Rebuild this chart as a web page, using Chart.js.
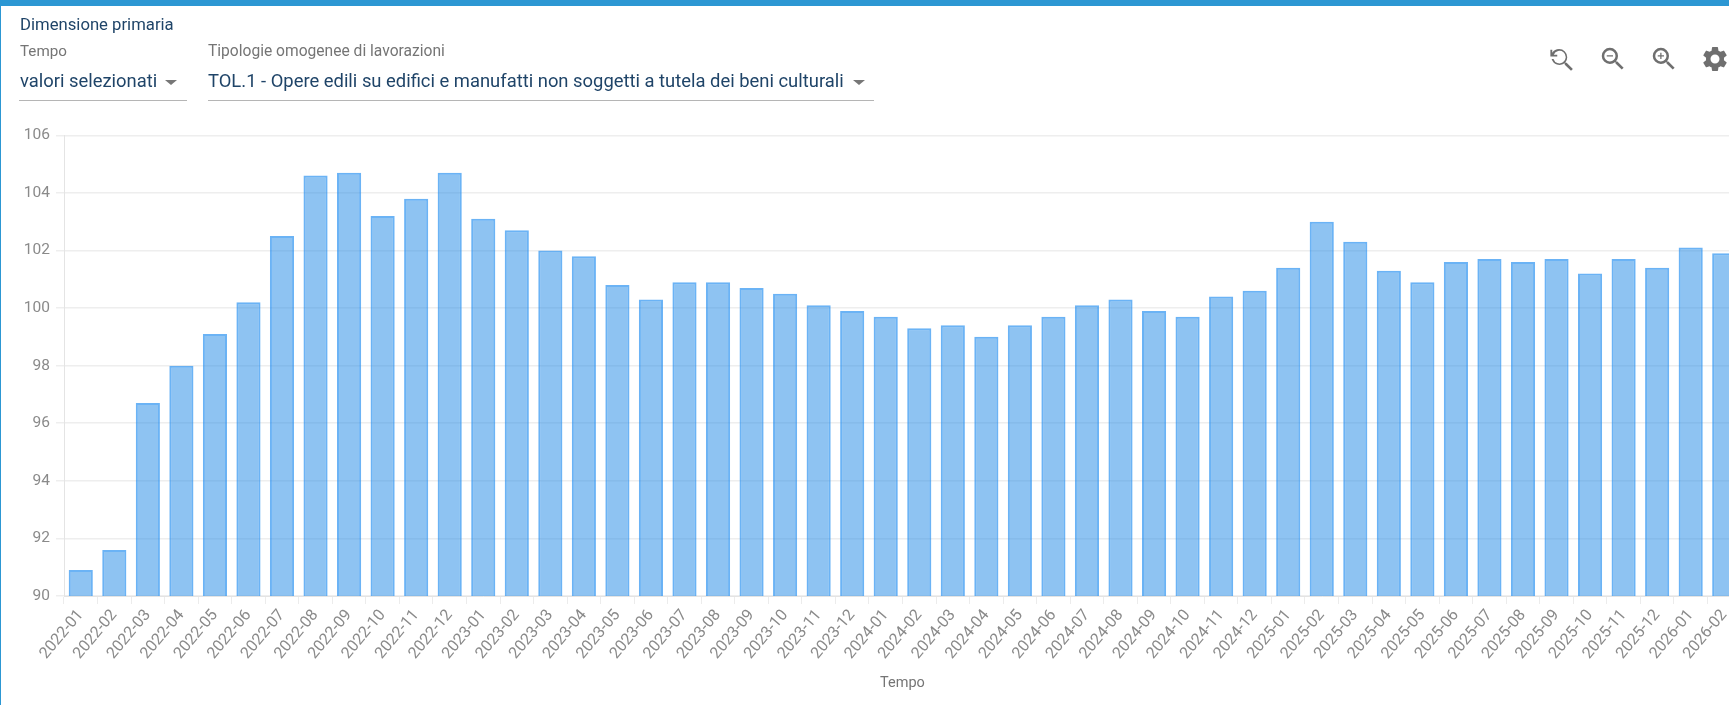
<!DOCTYPE html>
<html><head><meta charset="utf-8">
<script src="https://cdn.jsdelivr.net/npm/chart.js@4"></script>
<style>
html,body{margin:0;padding:0;width:1729px;height:705px;overflow:hidden;background:#fff;font-family:Roboto,sans-serif}
#top{position:absolute;left:0;top:0;width:1729px;height:6px;background:#2c97d3}
#leftb{position:absolute;left:0;top:0;width:1px;height:705px;background:#2c97d3}
.t{position:absolute;white-space:nowrap;filter:blur(.3px)}
.line{position:absolute;height:1px;background:#b5b5b5;top:100px}
.arrow{position:absolute;top:80px;width:0;height:0;border-left:6px solid transparent;border-right:6px solid transparent;border-top:5px solid #777}
#wrap{position:absolute;left:0;top:120px;width:1760px;height:585px;filter:blur(.5px)}
svg.i{position:absolute;top:44px;width:30px;height:30px;fill:#6f6f6f;filter:blur(.25px)}
</style></head><body>
<div id="top"></div><div id="leftb"></div>
<div class="t" style="left:20px;top:15px;font-size:16.7px;color:#1f4468">Dimensione primaria</div>
<div class="t" style="left:20px;top:42px;font-size:15.2px;color:#757575">Tempo</div>
<div class="t" style="left:208px;top:42px;font-size:15.6px;color:#757575">Tipologie omogenee di lavorazioni</div>
<div class="t" style="left:20px;top:70px;font-size:18.4px;color:#1f4468">valori selezionati</div>
<div class="arrow" style="left:165px"></div><div class="line" style="left:19px;width:168px"></div>
<div class="t" style="left:208px;top:70px;font-size:18.4px;color:#1f4468">TOL.1 - Opere edili su edifici e manufatti non soggetti a tutela dei beni culturali</div>
<div class="arrow" style="left:853px"></div><div class="line" style="left:208px;width:666px"></div>
<svg class="i" style="left:1546px" viewBox="0 0 24 24"><path d="M15.5 14h-.79l-.28-.27A6.47 6.47 0 0 0 16 9.5 6.5 6.5 0 0 0 9.5 3 6.5 6.5 0 0 0 4 6V3.5H2.5V9H8V7.5H5.2A5 5 0 1 1 5 11H3.5a6.5 6.5 0 0 0 10.23 3.43l.27.28v.79l5 4.99L20.49 19z" transform="translate(1 1)"/></svg>
<svg class="i" style="left:1598px" viewBox="0 0 24 24"><path d="M15.5 14h-.79l-.28-.27A6.47 6.47 0 0 0 16 9.5 6.5 6.5 0 1 0 9.5 16c1.61 0 3.09-.59 4.23-1.57l.27.28v.79l5 4.99L20.49 19zm-6 0A4.5 4.5 0 1 1 14 9.5 4.5 4.5 0 0 1 9.5 14zM7 9h5v1H7z"/></svg>
<svg class="i" style="left:1649px" viewBox="0 0 24 24"><path d="M15.5 14h-.79l-.28-.27A6.47 6.47 0 0 0 16 9.5 6.5 6.5 0 1 0 9.5 16c1.61 0 3.09-.59 4.23-1.57l.27.28v.79l5 4.99L20.49 19zm-6 0A4.5 4.5 0 1 1 14 9.5 4.5 4.5 0 0 1 9.5 14zM12 10h-2v2H9v-2H7V9h2V7h1v2h2z"/></svg>
<svg class="i" style="left:1700px" viewBox="0 0 24 24"><path d="M19.14 12.94c.04-.3.06-.61.06-.94s-.02-.64-.07-.94l2.03-1.58a.49.49 0 0 0 .12-.61l-1.92-3.32a.49.49 0 0 0-.59-.22l-2.39.96a7 7 0 0 0-1.62-.94l-.36-2.54a.48.48 0 0 0-.48-.41h-3.84a.48.48 0 0 0-.47.41l-.36 2.54c-.59.24-1.13.57-1.62.94l-2.39-.96a.49.49 0 0 0-.59.22L2.74 8.87a.48.48 0 0 0 .12.61l2.03 1.58c-.05.3-.09.63-.09.94s.02.64.07.94l-2.03 1.58a.49.49 0 0 0-.12.61l1.92 3.32c.12.22.37.29.59.22l2.39-.96c.5.38 1.03.7 1.62.94l.36 2.54c.05.24.24.41.48.41h3.84c.24 0 .44-.17.47-.41l.36-2.54c.59-.24 1.13-.56 1.62-.94l2.39.96c.22.08.47 0 .59-.22l1.92-3.32a.48.48 0 0 0-.12-.61zM12 15.6A3.6 3.6 0 1 1 15.6 12 3.61 3.61 0 0 1 12 15.6z"/></svg>
<div id="wrap"><canvas id="c"></canvas></div>
<script>
const categories=["2022-01","2022-02","2022-03","2022-04","2022-05","2022-06","2022-07","2022-08","2022-09","2022-10","2022-11","2022-12","2023-01","2023-02","2023-03","2023-04","2023-05","2023-06","2023-07","2023-08","2023-09","2023-10","2023-11","2023-12","2024-01","2024-02","2024-03","2024-04","2024-05","2024-06","2024-07","2024-08","2024-09","2024-10","2024-11","2024-12","2025-01","2025-02","2025-03","2025-04","2025-05","2025-06","2025-07","2025-08","2025-09","2025-10","2025-11","2025-12","2026-01","2026-02"];
const values=[90.9,91.6,96.7,98.0,99.1,100.2,102.5,104.6,104.7,103.2,103.8,104.7,103.1,102.7,102.0,101.8,100.8,100.3,100.9,100.9,100.7,100.5,100.1,99.9,99.7,99.3,99.4,99.0,99.4,99.7,100.1,100.3,99.9,99.7,100.4,100.6,101.4,103.0,102.3,101.3,100.9,101.6,101.7,101.6,101.7,101.2,101.7,101.4,102.1,101.9];
const axisTitle="Tempo";
const yMin=90,yMax=106,yStep=2;
new Chart(document.getElementById('c'),{
 type:'bar',
 data:{labels:categories,datasets:[{data:values,backgroundColor:'rgba(30,136,229,.5)',borderColor:'rgba(30,140,240,.66)',borderWidth:2,barPercentage:.72,categoryPercentage:1}]},
 options:{responsive:true,maintainAspectRatio:false,animation:false,
  layout:{padding:{top:13,right:19,left:0,bottom:0}},
  plugins:{legend:{display:false},tooltip:{enabled:false}},
  scales:{
   x:{afterFit(s){s.height=109},grid:{color:'#ececec',lineWidth:1,drawOnChartArea:false,tickLength:8},border:{color:'#e4e4e4'},
      title:{display:true,text:axisTitle,color:'#757575',font:{family:'Roboto',size:14.5},padding:{top:6,bottom:13}},
      ticks:{color:'#8a8a8a',font:{family:'Roboto',size:16},minRotation:50,maxRotation:50,autoSkip:false,padding:2}},
   y:{min:yMin,max:yMax,afterFit(s){s.width=64},grid:{color:'#eeeeee',lineWidth:1.5,tickLength:8},border:{color:'#e4e4e4'},
      ticks:{stepSize:yStep,color:'#8a8a8a',font:{family:'Roboto',size:15.5},padding:6}}
  }}
});
</script>
</body></html>
